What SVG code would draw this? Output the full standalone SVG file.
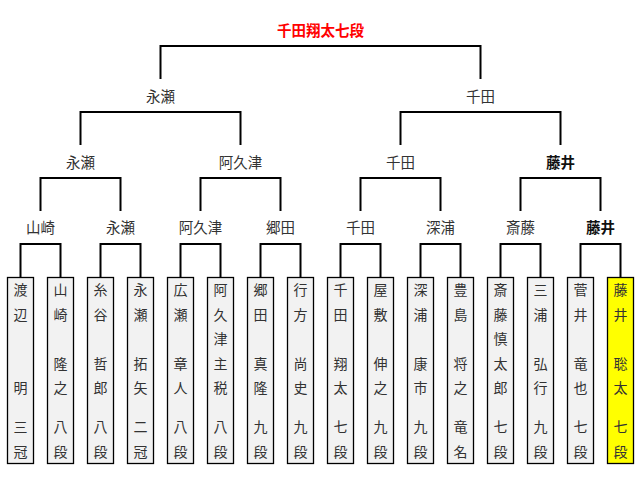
<svg xmlns="http://www.w3.org/2000/svg" width="641" height="477" viewBox="0 0 641 477">
<style>
.bk{fill:none;stroke:#000;stroke-width:2}
.box{fill:#f2f2f2;stroke:#000;stroke-width:1.3}
.win{fill:#ffff00;stroke:#000;stroke-width:1.3}
.lb{font-family:"Noto Sans CJK JP","Noto Sans CJK SC",sans-serif;font-size:14.5px;fill:#333;text-anchor:middle}
.b{font-weight:bold;fill:#111}
.tt{font-family:"Noto Sans CJK JP","Noto Sans CJK SC",sans-serif;font-size:14.5px;font-weight:bold;fill:#f00;text-anchor:middle}
.nm{font-family:"Noto Sans CJK JP","Noto Sans CJK SC",sans-serif;font-size:14px;fill:#333;text-anchor:middle}
</style>
<rect width="641" height="477" fill="#fff"/>
<g id="connectors">
<path class="bk" d="M20.5 277V244H60.5V277M100.5 277V244H140.5V277M180.5 277V244H220.5V277M260.5 277V244H300.5V277M340.5 277V244H380.5V277M420.5 277V244H460.5V277M500.5 277V244H540.5V277M580.5 277V244H620.5V277"/>
<path class="bk" d="M40.5 211V178H120.5V211M200.5 211V178H280.5V211M360.5 211V178H440.5V211M520.5 211V178H600.5V211"/>
<path class="bk" d="M80.5 145V112H240.5V145M400.5 145V112H560.5V145"/>
<path class="bk" d="M160.5 79V46H480.5V79"/>
</g>
<g id="title"><text class="tt" x="320.5" y="36">千田翔太七段</text></g>
<g id="r3">
<text class="lb" x="160.5" y="101.5">永瀬</text>
<text class="lb" x="480.5" y="101.5">千田</text>
</g>
<g id="r2">
<text class="lb" x="80.5" y="167.5">永瀬</text>
<text class="lb" x="240.5" y="167.5">阿久津</text>
<text class="lb" x="400.5" y="167.5">千田</text>
<text class="lb b" x="560.5" y="167.5">藤井</text>
</g>
<g id="r1">
<text class="lb" x="40.5" y="232.5">山崎</text>
<text class="lb" x="120.5" y="232.5">永瀬</text>
<text class="lb" x="200.5" y="232.5">阿久津</text>
<text class="lb" x="280.5" y="232.5">郷田</text>
<text class="lb" x="360.5" y="232.5">千田</text>
<text class="lb" x="440.5" y="232.5">深浦</text>
<text class="lb" x="520.5" y="232.5">斎藤</text>
<text class="lb b" x="600.5" y="232.5">藤井</text>
</g>
<g id="p1"><rect class="box" x="7.5" y="277.5" width="26" height="186"/><text class="nm"><tspan x="20.5" y="295.3">渡</tspan><tspan x="20.5" y="319.8">辺</tspan><tspan x="20.5" y="393.3">明</tspan><tspan x="20.5" y="432.3">三</tspan><tspan x="20.5" y="456.8">冠</tspan></text></g>
<g id="p2"><rect class="box" x="47.5" y="277.5" width="26" height="186"/><text class="nm"><tspan x="60.5" y="295.3">山</tspan><tspan x="60.5" y="319.8">崎</tspan><tspan x="60.5" y="368.8">隆</tspan><tspan x="60.5" y="393.3">之</tspan><tspan x="60.5" y="432.3">八</tspan><tspan x="60.5" y="456.8">段</tspan></text></g>
<g id="p3"><rect class="box" x="87.5" y="277.5" width="26" height="186"/><text class="nm"><tspan x="100.5" y="295.3">糸</tspan><tspan x="100.5" y="319.8">谷</tspan><tspan x="100.5" y="368.8">哲</tspan><tspan x="100.5" y="393.3">郎</tspan><tspan x="100.5" y="432.3">八</tspan><tspan x="100.5" y="456.8">段</tspan></text></g>
<g id="p4"><rect class="box" x="127.5" y="277.5" width="26" height="186"/><text class="nm"><tspan x="140.5" y="295.3">永</tspan><tspan x="140.5" y="319.8">瀬</tspan><tspan x="140.5" y="368.8">拓</tspan><tspan x="140.5" y="393.3">矢</tspan><tspan x="140.5" y="432.3">二</tspan><tspan x="140.5" y="456.8">冠</tspan></text></g>
<g id="p5"><rect class="box" x="167.5" y="277.5" width="26" height="186"/><text class="nm"><tspan x="180.5" y="295.3">広</tspan><tspan x="180.5" y="319.8">瀬</tspan><tspan x="180.5" y="368.8">章</tspan><tspan x="180.5" y="393.3">人</tspan><tspan x="180.5" y="432.3">八</tspan><tspan x="180.5" y="456.8">段</tspan></text></g>
<g id="p6"><rect class="box" x="207.5" y="277.5" width="26" height="186"/><text class="nm"><tspan x="220.5" y="295.3">阿</tspan><tspan x="220.5" y="319.8">久</tspan><tspan x="220.5" y="344.3">津</tspan><tspan x="220.5" y="368.8">主</tspan><tspan x="220.5" y="393.3">税</tspan><tspan x="220.5" y="432.3">八</tspan><tspan x="220.5" y="456.8">段</tspan></text></g>
<g id="p7"><rect class="box" x="247.5" y="277.5" width="26" height="186"/><text class="nm"><tspan x="260.5" y="295.3">郷</tspan><tspan x="260.5" y="319.8">田</tspan><tspan x="260.5" y="368.8">真</tspan><tspan x="260.5" y="393.3">隆</tspan><tspan x="260.5" y="432.3">九</tspan><tspan x="260.5" y="456.8">段</tspan></text></g>
<g id="p8"><rect class="box" x="287.5" y="277.5" width="26" height="186"/><text class="nm"><tspan x="300.5" y="295.3">行</tspan><tspan x="300.5" y="319.8">方</tspan><tspan x="300.5" y="368.8">尚</tspan><tspan x="300.5" y="393.3">史</tspan><tspan x="300.5" y="432.3">九</tspan><tspan x="300.5" y="456.8">段</tspan></text></g>
<g id="p9"><rect class="box" x="327.5" y="277.5" width="26" height="186"/><text class="nm"><tspan x="340.5" y="295.3">千</tspan><tspan x="340.5" y="319.8">田</tspan><tspan x="340.5" y="368.8">翔</tspan><tspan x="340.5" y="393.3">太</tspan><tspan x="340.5" y="432.3">七</tspan><tspan x="340.5" y="456.8">段</tspan></text></g>
<g id="p10"><rect class="box" x="367.5" y="277.5" width="26" height="186"/><text class="nm"><tspan x="380.5" y="295.3">屋</tspan><tspan x="380.5" y="319.8">敷</tspan><tspan x="380.5" y="368.8">伸</tspan><tspan x="380.5" y="393.3">之</tspan><tspan x="380.5" y="432.3">九</tspan><tspan x="380.5" y="456.8">段</tspan></text></g>
<g id="p11"><rect class="box" x="407.5" y="277.5" width="26" height="186"/><text class="nm"><tspan x="420.5" y="295.3">深</tspan><tspan x="420.5" y="319.8">浦</tspan><tspan x="420.5" y="368.8">康</tspan><tspan x="420.5" y="393.3">市</tspan><tspan x="420.5" y="432.3">九</tspan><tspan x="420.5" y="456.8">段</tspan></text></g>
<g id="p12"><rect class="box" x="447.5" y="277.5" width="26" height="186"/><text class="nm"><tspan x="460.5" y="295.3">豊</tspan><tspan x="460.5" y="319.8">島</tspan><tspan x="460.5" y="368.8">将</tspan><tspan x="460.5" y="393.3">之</tspan><tspan x="460.5" y="432.3">竜</tspan><tspan x="460.5" y="456.8">名</tspan></text></g>
<g id="p13"><rect class="box" x="487.5" y="277.5" width="26" height="186"/><text class="nm"><tspan x="500.5" y="295.3">斎</tspan><tspan x="500.5" y="319.8">藤</tspan><tspan x="500.5" y="344.3">慎</tspan><tspan x="500.5" y="368.8">太</tspan><tspan x="500.5" y="393.3">郎</tspan><tspan x="500.5" y="432.3">七</tspan><tspan x="500.5" y="456.8">段</tspan></text></g>
<g id="p14"><rect class="box" x="527.5" y="277.5" width="26" height="186"/><text class="nm"><tspan x="540.5" y="295.3">三</tspan><tspan x="540.5" y="319.8">浦</tspan><tspan x="540.5" y="368.8">弘</tspan><tspan x="540.5" y="393.3">行</tspan><tspan x="540.5" y="432.3">九</tspan><tspan x="540.5" y="456.8">段</tspan></text></g>
<g id="p15"><rect class="box" x="567.5" y="277.5" width="26" height="186"/><text class="nm"><tspan x="580.5" y="295.3">菅</tspan><tspan x="580.5" y="319.8">井</tspan><tspan x="580.5" y="368.8">竜</tspan><tspan x="580.5" y="393.3">也</tspan><tspan x="580.5" y="432.3">七</tspan><tspan x="580.5" y="456.8">段</tspan></text></g>
<g id="p16"><rect class="win" x="607.5" y="277.5" width="26" height="186"/><text class="nm"><tspan x="620.5" y="295.3">藤</tspan><tspan x="620.5" y="319.8">井</tspan><tspan x="620.5" y="368.8">聡</tspan><tspan x="620.5" y="393.3">太</tspan><tspan x="620.5" y="432.3">七</tspan><tspan x="620.5" y="456.8">段</tspan></text></g>
</svg>
